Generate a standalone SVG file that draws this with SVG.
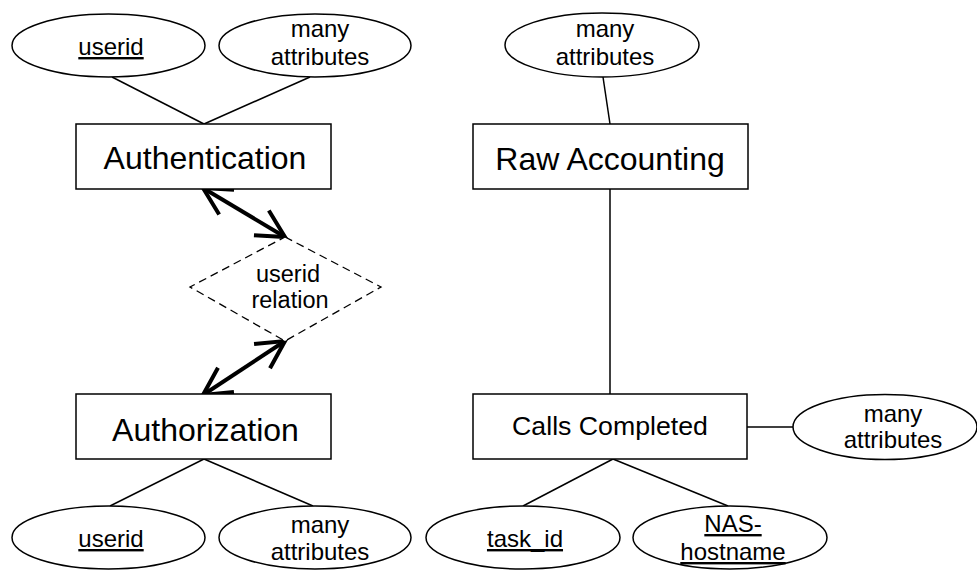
<svg xmlns="http://www.w3.org/2000/svg" width="977" height="570" viewBox="0 0 977 570">
<style>
  .ent { fill: #fff; stroke: #000; stroke-width: 1.5; }
  .att { fill: #fff; stroke: #000; stroke-width: 1.5; }
  .rel { fill: #fff; stroke: #000; stroke-width: 1.3; stroke-dasharray: 8 5; }
  .conn { stroke: #000; stroke-width: 1.5; fill: none; }
  .thick { stroke: #000; stroke-width: 4; fill: none; }
  text { font-family: "Liberation Sans", Arial, sans-serif; fill: #000; text-anchor: middle; }
  .big { font-size: 32px; }
  .mid { font-size: 26.7px; }
  .sm { font-size: 24px; }
  .key { text-decoration: underline; }
</style>
<defs>
  <marker id="arr" markerUnits="userSpaceOnUse" viewBox="-32 -20 36 40" refX="0" refY="0" markerWidth="36" markerHeight="40" orient="auto-start-reverse" overflow="visible">
    <path d="M-27.5,-14.5 L0,0 L-27.5,14.5" fill="none" stroke="#000" stroke-width="4" stroke-linejoin="miter"/>
  </marker>
</defs>

<g id="connectors">
  <line class="conn" x1="112" y1="77" x2="204" y2="124"/>
  <line class="conn" x1="310" y1="77" x2="204" y2="124"/>
  <line class="conn" x1="603" y1="77" x2="610" y2="124"/>
  <line class="conn" x1="610" y1="189" x2="610" y2="394"/>
  <line class="conn" x1="204" y1="459" x2="110" y2="506"/>
  <line class="conn" x1="204" y1="459" x2="313" y2="506"/>
  <line class="conn" x1="613" y1="459" x2="523" y2="506"/>
  <line class="conn" x1="613" y1="459" x2="728" y2="506"/>
  <line class="conn" x1="747" y1="427" x2="793" y2="427"/>
  <line class="thick" x1="203" y1="188" x2="285" y2="237" marker-start="url(#arr)" marker-end="url(#arr)"/>
  <line class="thick" x1="285" y1="341" x2="203" y2="395" marker-start="url(#arr)" marker-end="url(#arr)"/>
</g>

<g id="authentication">
  <rect class="ent" x="76" y="124" width="255" height="65"/>
  <text class="big" x="205" y="169">Authentication</text>
</g>
<g id="authentication-userid">
  <ellipse class="att" cx="108.5" cy="45.5" rx="96.5" ry="31.5"/>
  <text class="sm key" x="111" y="55">userid</text>
</g>
<g id="authentication-attrs">
  <ellipse class="att" cx="315" cy="45.5" rx="96" ry="31.5"/>
  <text class="sm" x="320" y="37">many</text>
  <text class="sm" x="320" y="65">attributes</text>
</g>

<g id="userid-relation">
  <polygon class="rel" points="285,237 381,287 285,341 190,287"/>
  <text class="sm" style="font-size:23.5px" x="288" y="282">userid</text>
  <text class="sm" style="font-size:23.5px" x="290" y="308">relation</text>
</g>

<g id="authorization">
  <rect class="ent" x="76" y="394" width="255" height="65"/>
  <text class="big" x="205.5" y="441">Authorization</text>
</g>
<g id="authorization-userid">
  <ellipse class="att" cx="108.5" cy="537.5" rx="96.5" ry="31.5"/>
  <text class="sm key" x="111" y="547">userid</text>
</g>
<g id="authorization-attrs">
  <ellipse class="att" cx="315" cy="537.5" rx="96" ry="31.5"/>
  <text class="sm" x="320" y="533">many</text>
  <text class="sm" x="320" y="560">attributes</text>
</g>

<g id="raw-accounting">
  <rect class="ent" x="473" y="124" width="275" height="65"/>
  <text class="big" x="610" y="170">Raw Accounting</text>
</g>
<g id="raw-accounting-attrs">
  <ellipse class="att" cx="602" cy="45" rx="97" ry="32"/>
  <text class="sm" x="605" y="37">many</text>
  <text class="sm" x="605" y="65">attributes</text>
</g>

<g id="calls-completed">
  <rect class="ent" x="473" y="394" width="274" height="65"/>
  <text class="mid" x="610" y="435">Calls Completed</text>
</g>
<g id="calls-completed-attrs">
  <ellipse class="att" cx="885" cy="427" rx="92" ry="32.5"/>
  <text class="sm" x="893" y="422">many</text>
  <text class="sm" x="893" y="448">attributes</text>
</g>
<g id="calls-completed-taskid">
  <ellipse class="att" cx="523" cy="537.5" rx="97" ry="31.5"/>
  <text class="sm key" x="525" y="547">task_id</text>
</g>
<g id="calls-completed-nas">
  <ellipse class="att" cx="730" cy="537.5" rx="97" ry="31.5"/>
  <text class="sm key" x="733" y="532">NAS-</text>
  <text class="sm key" x="733" y="560">hostname</text>
</g>
</svg>
